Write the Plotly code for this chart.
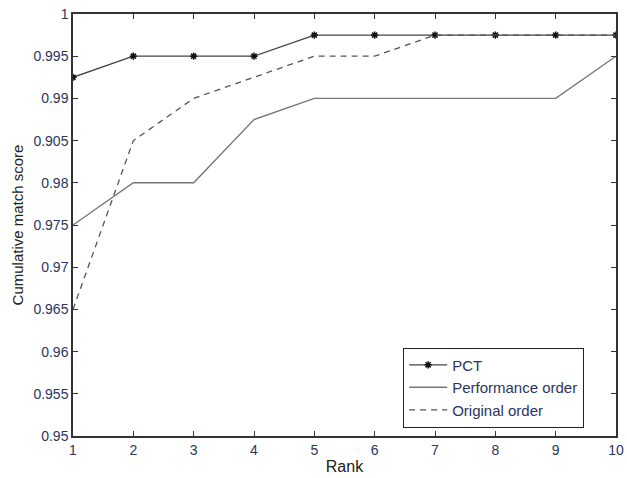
import plotly.graph_objects as go

ranks = [1, 2, 3, 4, 5, 6, 7, 8, 9, 10]
pct = [0.9925, 0.995, 0.995, 0.995, 0.9975, 0.9975, 0.9975, 0.9975, 0.9975, 0.9975]
performance_order = [0.975, 0.98, 0.98, 0.9875, 0.99, 0.99, 0.99, 0.99, 0.99, 0.995]
original_order = [0.965, 0.985, 0.99, 0.9925, 0.995, 0.995, 0.9975, 0.9975, 0.9975, 0.9975]

y_tickvals = [0.95, 0.955, 0.96, 0.965, 0.97, 0.975, 0.98, 0.985, 0.99, 0.995, 1.0]
y_ticktext = ["0.95", "0.955", "0.96", "0.965", "0.97", "0.975", "0.98", "0.905", "0.99", "0.995", "1"]

label_color = "#2a3560"
font_family = "Liberation Sans, Arial, sans-serif"

fig = go.Figure()
fig.add_trace(go.Scatter(
    x=ranks, y=pct, name="PCT", mode="lines+markers",
    line=dict(color="#444444", width=1.3),
    marker=dict(symbol="asterisk", size=6, color="#111111",
                line=dict(color="#111111", width=1.5)),
))
fig.add_trace(go.Scatter(
    x=ranks, y=performance_order, name="Performance order", mode="lines",
    line=dict(color="#777777", width=1.4),
))
fig.add_trace(go.Scatter(
    x=ranks, y=original_order, name="Original order", mode="lines",
    line=dict(color="#555555", width=1.3, dash="6px,5px"),
))

axis_common = dict(
    showgrid=False, zeroline=False, showline=True, linecolor="#333333",
    linewidth=1.5, mirror="ticks", ticks="inside", ticklen=5, automargin=False,
    tickcolor="#333333", tickfont=dict(size=14, color=label_color, family=font_family),
)

fig.update_layout(
    width=627, height=478,
    margin=dict(l=73, r=11, t=14, b=42),
    paper_bgcolor="white", plot_bgcolor="white",
    font=dict(family=font_family, color="#222222"),
    xaxis=dict(range=[1, 10], tickvals=ranks,
               title=dict(text="Rank", font=dict(size=16, color="#222222"), standoff=4),
               **axis_common),
    yaxis=dict(range=[0.95, 1.0], tickvals=y_tickvals, ticktext=y_ticktext,
               title=dict(text="Cumulative match score", font=dict(size=15, color="#222222"), standoff=6),
               **axis_common),
    legend=dict(x=0.608, y=0.02, xanchor="left", yanchor="bottom",
                bgcolor="white", bordercolor="#222222", borderwidth=1,
                font=dict(size=15, color=label_color, family=font_family),
                tracegroupgap=0, itemwidth=38),
    showlegend=True,
)

fig.write_html("out.html")
